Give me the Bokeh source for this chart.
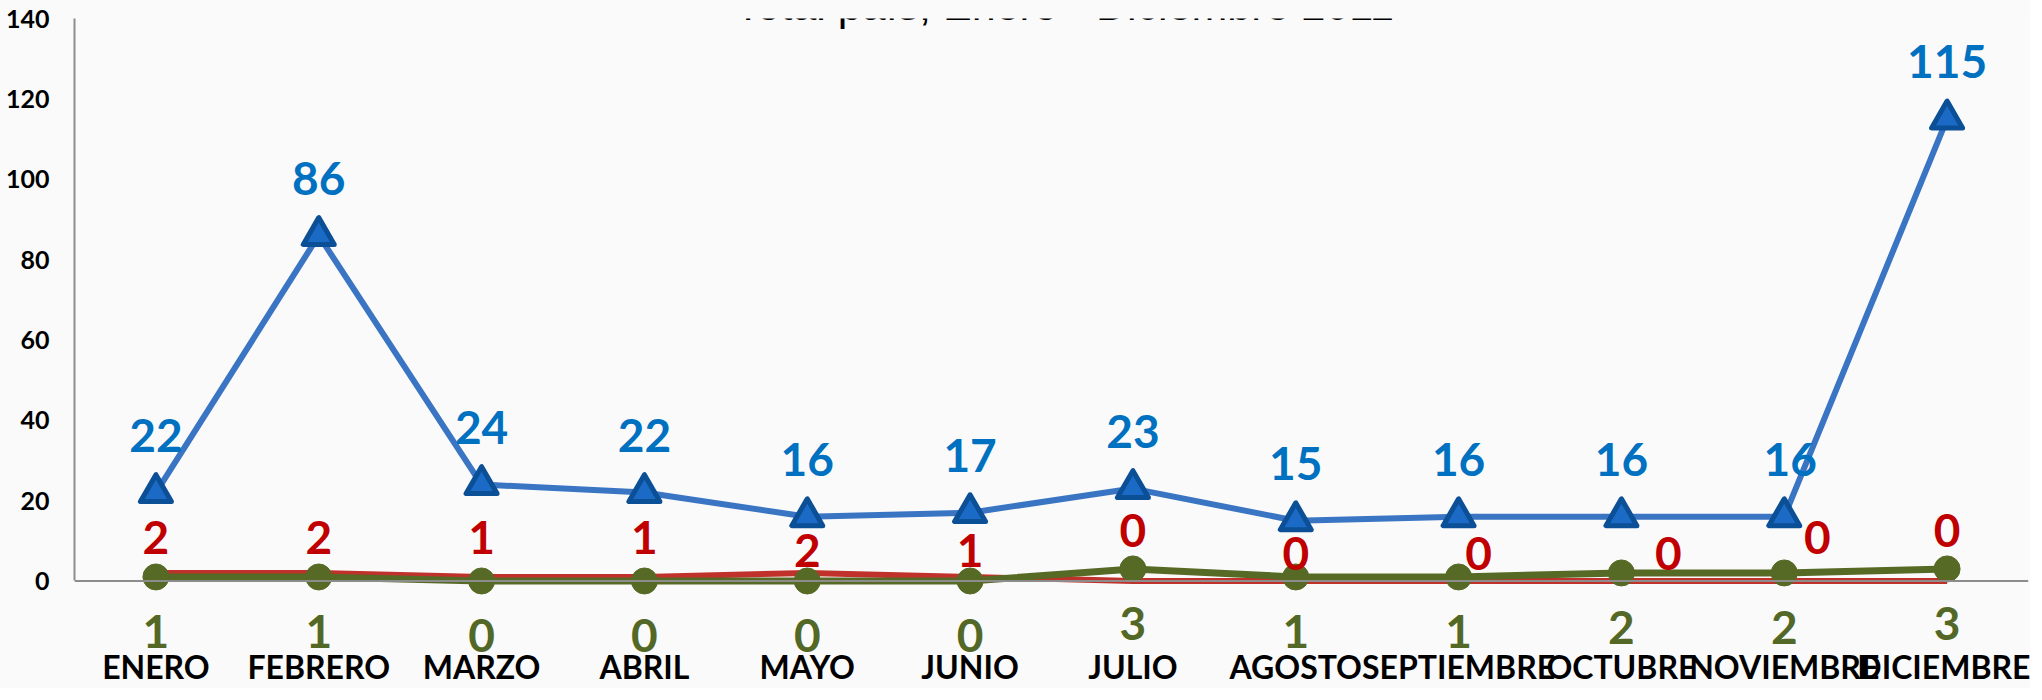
from bokeh.plotting import figure
from bokeh.models import ColumnDataSource, LabelSet, Label, Span, FixedTicker, Range1d, FactorRange
from bokeh.core.properties import value
from bokeh.embed import file_html
from bokeh.resources import INLINE

# ---- data ----
months = ["ENERO", "FEBRERO", "MARZO", "ABRIL", "MAYO", "JUNIO", "JULIO",
          "AGOSTO", "SEPTIEMBRE", "OCTUBRE", "NOVIEMBRE", "DICIEMBRE"]
serie_azul = [22, 86, 24, 22, 16, 17, 23, 15, 16, 16, 16, 115]
serie_roja = [2, 2, 1, 1, 2, 1, 0, 0, 0, 0, 0, 0]
serie_verde = [1, 1, 0, 0, 0, 0, 3, 1, 1, 2, 2, 3]
y_ticks = [0, 20, 40, 60, 80, 100, 120, 140]
title_text = "Total país, Enero - Diciembre 2011"

# ---- label placement (pixels) ----
blue_dx = [0, 0, 0, 0, 0, 0, 0, 0, 0, 0, 6, 0]
blue_dy = [57] * 12
red_dx = [0, 0, 0, 0, 0, 0, 0, 0, 20, 47, 33, 0]
red_dy = [35, 35, 39, 39, 22, 26, 50, 27, 27, 27, 43, 50]
green_dy = [-55] * 12

BLUE_LINE = "#3A75C4"
BLUE_TXT = "#0070C0"
RED_LINE = "#C0312B"
RED_TXT = "#C00000"
GREEN = "#566A25"
GREEN_TXT = "#536826"
AXIS = "#8C8C8C"
BG = "#FAFAFA"
FONT = "Lato"

src = ColumnDataSource(dict(
    m=months,
    a=serie_azul, r=serie_roja, v=serie_verde,
    at=[str(x) for x in serie_azul],
    rt=[str(x) for x in serie_roja],
    vt=[str(x) for x in serie_verde],
    adx=blue_dx, ady=blue_dy,
    rdx=red_dx, rdy=red_dy,
    vdy=green_dy,
))

p = figure(width=2034, height=692, x_range=FactorRange(*months),
           y_range=Range1d(-18.3, 140), output_backend="svg", toolbar_location=None,
           min_border_left=78, min_border_right=2, min_border_top=22, min_border_bottom=30)
p.margin = (-4, 0, 0, -4)
p.background_fill_color = BG
p.border_fill_color = BG
p.outline_line_color = None
p.xgrid.grid_line_color = None
p.ygrid.grid_line_color = None

# y axis
p.yaxis.ticker = FixedTicker(ticks=y_ticks)
p.yaxis.bounds = (0, 140)
p.yaxis.axis_line_color = AXIS
p.yaxis.axis_line_width = 2
p.yaxis.major_tick_line_color = None
p.yaxis.minor_tick_line_color = None
p.yaxis.major_tick_out = 0
p.yaxis.major_tick_in = 0
p.yaxis.minor_tick_out = 0
p.yaxis.major_label_text_font = FONT
p.yaxis.major_label_text_font_style = "bold"
p.yaxis.major_label_text_font_size = "25px"
p.yaxis.major_label_text_color = "black"
p.yaxis.major_label_standoff = 25

# x axis (category names just below the green value labels)
p.xaxis.axis_line_color = None
p.xaxis.major_tick_line_color = None
p.xaxis.minor_tick_line_color = None
p.xaxis.major_tick_out = 0
p.xaxis.major_tick_in = 0
p.xaxis.major_label_text_font = FONT
p.xaxis.major_label_text_font_style = "bold"
p.xaxis.major_label_text_font_size = "32px"
p.xaxis.major_label_text_color = "black"
p.xaxis.major_label_standoff = -8

# baseline at y = 0
p.add_layout(Span(location=0, dimension="width", line_color=AXIS, line_width=2))

# series
p.line("m", "a", source=src, line_color=BLUE_LINE, line_width=6)
p.scatter("m", "a", source=src, marker="triangle", size=31, fill_color="#1B6BC6",
          line_color="#0B4F97", line_width=5, line_join="round")
p.line("m", "r", source=src, line_color=RED_LINE, line_width=6)
p.line("m", "v", source=src, line_color=GREEN, line_width=7)
p.scatter("m", "v", source=src, marker="circle", size=26, fill_color=GREEN, line_color=GREEN)

common = dict(source=src, text_font=value(FONT), text_font_style="bold", text_font_size="46px",
              text_align="center", text_baseline="middle")
p.add_layout(LabelSet(x="m", y="a", text="at", x_offset="adx", y_offset="ady",
                      text_color=BLUE_TXT, **common))
p.add_layout(LabelSet(x="m", y="r", text="rt", x_offset="rdx", y_offset="rdy",
                      text_color=RED_TXT, **common))
p.add_layout(LabelSet(x="m", y="v", text="vt", y_offset="vdy",
                      text_color=GREEN_TXT, **common))

# title (mostly above the visible area, as in the original)
p.add_layout(Label(x=990, y=143.3, x_units="screen", y_units="data", text=title_text,
                   text_font="Liberation Sans", text_font_size="43px", text_color="black",
                   text_align="center", text_baseline="alphabetic"))

open("out.html", "w").write(file_html(p, INLINE))
